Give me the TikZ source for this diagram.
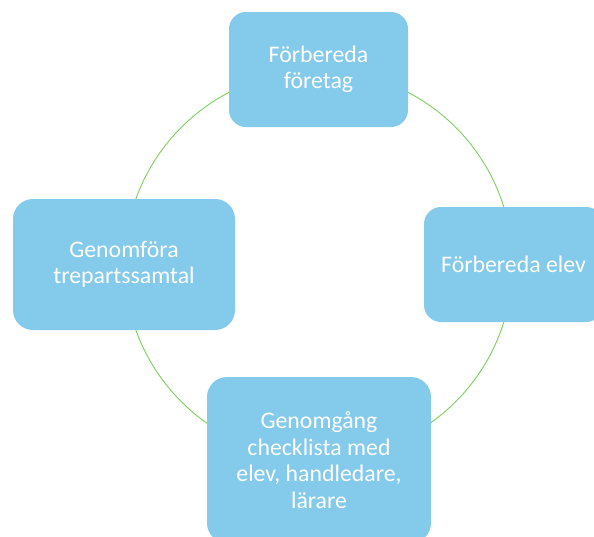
\documentclass[tikz,border=0pt]{standalone}
\usepackage{fontspec}
\setmainfont{Carlito}
\usepackage{tikz}
\usetikzlibrary{positioning}

\begin{document}
\begin{tikzpicture}[
	x=1pt, y=-1pt,
	font=\fontsize{23.8}{26.5}\selectfont,
	line cap=round,
	line join=round
	]
	% Colours close to the picture
	\definecolor{cyBlue}{HTML}{83CAEB}
	\definecolor{cyGreen}{HTML}{7CCF5E}
	
	% Node styles
	\tikzset{
		stepbox/.style={rectangle, rounded corners=17pt, fill=cyBlue, text=white,
			align=center, inner sep=0pt, minimum width=179pt, minimum height=115pt},
		widebox/.style={stepbox, rounded corners=20pt, minimum width=222pt, minimum height=131pt},
		ring/.style={draw=cyGreen, line width=0.9pt}
	}
	
	% ===== Frame =====
	\clip (0,0) rectangle (594,536);
	
	% ===== Cycle ring (behind the boxes) =====
	\coordinate (hub) at (318.5,264.5);
	\draw[ring] (hub) circle[radius=194];
	
	% ===== Boxes =====
	\node[stepbox] (prepco) at (318.5,69.5) {Förbereda\\företag};
	\node[stepbox] (prepst) at (513.5,264.5) {Förbereda elev};
	\node[widebox, minimum width=224pt, minimum height=166pt] (review) at (319,460)
		{Genomgång\\checklista med\\elev, handledare,\\lärare};
	\node[widebox] (meet) at (124,264.5) {Genomföra\\trepartssamtal};
	
\end{tikzpicture}
\end{document}
